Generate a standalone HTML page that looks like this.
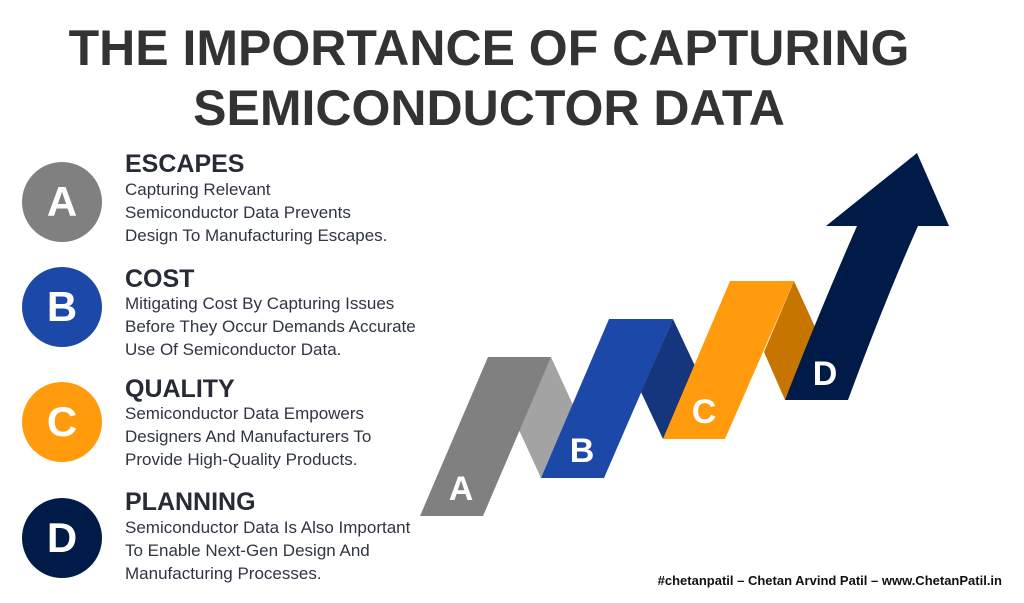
<!DOCTYPE html>
<html><head><meta charset="utf-8"><style>
body{margin:0;width:1024px;height:603px;background:#fff;position:relative;overflow:hidden;font-family:"Liberation Sans",Arial,sans-serif;}
.h{position:absolute;left:0;width:978px;text-align:center;font-weight:bold;font-size:50px;color:#333;line-height:58px;}
.c{position:absolute;left:22px;width:80px;height:80px;border-radius:50%;color:#fff;font-weight:bold;font-size:42px;text-align:center;line-height:80px;}
.t{position:absolute;left:125px;font-weight:bold;font-size:25px;color:#262b36;line-height:28px;}
.b{position:absolute;left:125px;font-size:17px;color:#2f3542;line-height:23px;}
.f{position:absolute;right:22px;top:573px;font-weight:bold;font-size:13px;color:#111;}
</style></head><body>
<div class="h" style="top:19px">THE IMPORTANCE OF CAPTURING</div>
<div class="h" style="top:79px">SEMICONDUCTOR DATA</div>

<div class="c" style="top:162px;background:#808080">A</div>
<div class="t" style="top:150px">ESCAPES</div>
<div class="b" style="top:178px">Capturing Relevant<br>Semiconductor Data Prevents<br>Design To Manufacturing Escapes.</div>

<div class="c" style="top:267px;background:#1c49a8">B</div>
<div class="t" style="top:265px">COST</div>
<div class="b" style="top:292px">Mitigating Cost By Capturing Issues<br>Before They Occur Demands Accurate<br>Use Of Semiconductor Data.</div>

<div class="c" style="top:382px;background:#ff9b0c">C</div>
<div class="t" style="top:375px">QUALITY</div>
<div class="b" style="top:402px">Semiconductor Data Empowers<br>Designers And Manufacturers To<br>Provide High-Quality Products.</div>

<div class="c" style="top:498px;background:#001b47">D</div>
<div class="t" style="top:488px">PLANNING</div>
<div class="b" style="top:516px">Semiconductor Data Is Also Important<br>To Enable Next-Gen Design And<br>Manufacturing Processes.</div>

<svg style="position:absolute;left:0;top:0" width="1024" height="603">
<polygon points="551,357 519,430 541,478 573,405" fill="#a3a3a3"/>
<polygon points="420,516 483,516 551,357 488,357" fill="#808080"/>
<polygon points="673,319 641,392 663,439 695,366" fill="#15357d"/>
<polygon points="541,478 604,478 673,319 609,319" fill="#1c49a8"/>
<polygon points="794,281 764,352 785,400 815,327" fill="#c67600"/>
<polygon points="663,439 725,439 794,281 730,281" fill="#ff9b0c"/>
<path d="M785,400 L848,400 Q885,300 918,226 L949,226 L917,153 L826,226 L857,226 Q820,310 785,400 Z" fill="#001b47"/>
<g fill="#fff" font-weight="bold" font-size="34" text-anchor="middle" font-family="Liberation Sans,Arial,sans-serif">
<text x="461" y="500">A</text><text x="582" y="462">B</text><text x="704" y="423">C</text><text x="825" y="385">D</text>
</g>
</svg>
<div class="f">#chetanpatil – Chetan Arvind Patil – www.ChetanPatil.in</div>
</body></html>
